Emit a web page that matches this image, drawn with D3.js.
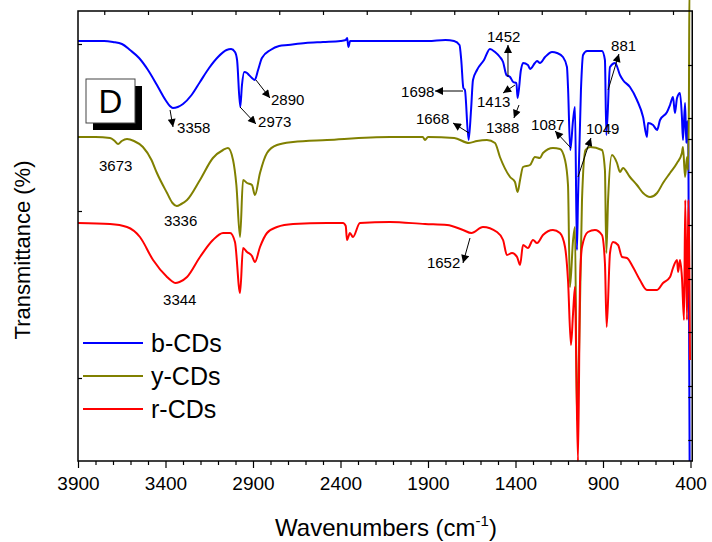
<!DOCTYPE html>
<html>
<head>
<meta charset="utf-8">
<script src="https://cdn.jsdelivr.net/npm/d3@7"></script>
<style>
  body { margin: 0; background: #fff; }
  svg text { font-family: "Liberation Sans", Arial, sans-serif; fill: #000; }
</style>
</head>
<body>
<svg id="chart" width="712" height="542"></svg>
<script>
// FT-IR spectra, [wavenumber (cm-1), transmittance (a.u., curves stacked)]
var bCDs = [
  [3900,420],[3800,420],[3751,420],[3700,419],[3649,417],[3603,411],[3551,403],[3500,391],
  [3449,376],[3400,361],[3375,355],[3358,353],[3330,354],[3300,357],[3251,366],[3203,379],[3151,393],[3100,404],
  [3051,411],[3025,412],[3003,409],[2991,401],[2973,354],[2963,376],[2950,389],[2934,388],
  [2923,386],[2906,383],[2890,381],[2871,391],[2849,403],[2800,411],[2751,415],[2700,416],
  [2600,418],[2500,419],[2400,420],[2370,421],[2362,423],[2355,414],[2345,420],[2300,420],
  [2100,420],[1900,420],[1800,421],[1751,420],[1720,416],[1710,401],[1698,373],[1689,371],
  [1668,321],[1654,351],[1643,381],[1620,391],[1580,401],[1546,412],[1517,409],[1489,404],
  [1471,399],[1452,386],[1431,384],[1413,379],[1395,378],[1388,363],[1369,391],[1357,398],
  [1329,396],[1317,392],[1289,398],[1277,400],[1260,398],[1231,404],[1191,409],[1163,408],
  [1129,404],[1106,394],[1100,374],[1087,311],[1071,341],[1060,354],[1049,211],[1043,261],
  [1026,371],[1014,406],[991,410],[906,410],[889,401],[881,326],[860,394],[831,398],
  [803,386],[786,381],[746,374],[706,361],[671,344],[649,324],[643,338],[614,336],
  [591,331],[574,341],[534,349],[517,356],[500,364],[489,348],[477,363],[460,368],
  [449,344],[443,321],[431,358],[424,318],[418,340],[412,310],[405,0]
];
var yCDs = [
  [3900,324],[3800,324],[3717,323],[3690,320],[3671,317],[3650,320],[3620,322],[3580,320],
  [3529,314],[3480,301],[3449,288],[3391,268],[3360,258],[3336,255],[3310,257],[3277,261],[3203,281],[3129,303],
  [3071,311],[3043,313],[3014,301],[2995,276],[2974,224],[2957,281],[2934,278],[2906,276],
  [2889,266],[2860,288],[2820,308],[2763,316],[2671,319],[2477,321],[2117,324],[1930,324],
  [1917,321],[1900,324],[1750,323],[1666,318],[1620,320],[1563,321],[1517,318],[1489,304],
  [1431,284],[1403,279],[1388,269],[1374,281],[1357,294],[1317,296],[1289,304],[1260,303],
  [1243,308],[1186,313],[1146,312],[1117,301],[1100,276],[1089,174],[1071,221],[1060,234],
  [1049,41],[1031,161],[1020,261],[1000,311],[974,314],[906,311],[889,291],[881,208],
  [871,261],[849,306],[820,298],[803,289],[786,293],[746,284],[706,276],[671,268],
  [631,264],[591,268],[557,278],[517,288],[477,298],[449,308],[443,314],[431,284],
  [420,304],[414,291],[409,361],[406,475],[402,475]
];
var rCDs = [
  [3900,238],[3717,237],[3620,234],[3546,224],[3471,201],[3391,184],[3365,180],[3344,178],[3320,179],[3277,184],
  [3203,204],[3129,221],[3071,228],[3031,228],[3003,219],[2974,168],[2957,213],[2934,209],
  [2906,205],[2889,199],[2860,214],[2820,228],[2763,234],[2671,237],[2477,238],[2386,238],
  [2370,235],[2363,221],[2346,228],[2329,224],[2289,238],[2117,239],[1917,237],[1791,236],
  [1700,231],[1652,228],[1586,234],[1506,229],[1471,221],[1449,206],[1420,208],[1391,204],
  [1374,196],[1357,216],[1329,213],[1300,221],[1277,218],[1243,226],[1186,231],[1146,228],
  [1117,214],[1100,181],[1083,116],[1071,148],[1060,174],[1054,114],[1043,0],[1031,181],
  [1020,214],[986,229],[946,231],[906,226],[889,198],[879,134],[860,208],[843,219],
  [814,216],[791,204],[763,203],[729,194],[689,181],[649,171],[591,171],[557,178],
  [517,184],[500,193],[477,201],[471,189],[460,201],[449,184],[437,141],[430,261],
  [420,141],[412,261],[403,101]
];

var seriesNames = ['b-CDs', 'y-CDs', 'r-CDs'];
var seriesColors = ['#0000ff', '#808000', '#ff0000'];
var seriesData = [bCDs, yCDs, rCDs];

var xMajorTicks = [3900, 3400, 2900, 2400, 1900, 1400, 900, 400];
var xMinorTicks = d3.range(3900, 399, -100);
var xTopTicks = d3.range(3750, 399, -250);
var yLeftTicks = [417, 250, 83];
var yRightTicks = [396, 343, 322, 289, 236, 193, 182, 129, 75, 64, 21];

// peak labels: text, label anchor [w, T], arrow from [w, T] to [w, T]
var peakLabels = [
  {t: '3358', at: [3334, 328], from: [3374, 351], to: [3357, 334]},
  {t: '2973', at: [2871, 334], from: [2974, 354], to: [2883, 337]},
  {t: '2890', at: [2797, 356], from: [2883, 381], to: [2803, 363]},
  {t: '3673', at: [3780, 290]},
  {t: '3336', at: [3409, 235]},
  {t: '3344', at: [3414, 156]},
  {t: '1452', at: [1563, 419], from: [1443, 384], to: [1443, 416]},
  {t: '1698', at: [2054, 364], from: [1700, 370], to: [1860, 370]},
  {t: '1413', at: [1620, 354], from: [1403, 376], to: [1471, 368]},
  {t: '1388', at: [1569, 328], from: [1380, 356], to: [1409, 343]},
  {t: '1668', at: [1969, 337], from: [1666, 328], to: [1757, 338]},
  {t: '1087', at: [1311, 331], from: [1083, 313], to: [1174, 330]},
  {t: '1049', at: [997, 327], from: [1043, 284], to: [969, 323]},
  {t: '881', at: [854, 410], from: [871, 371], to: [809, 407]},
  {t: '1652', at: [1906, 193], from: [1660, 223], to: [1700, 198]}
];

var margin = {top: 11, left: 78};
var plotW = 614.25, plotH = 450;

var svg = d3.select('#chart');
var g = svg.append('g').attr('transform', 'translate(' + margin.left + ',' + margin.top + ')');

var x = d3.scaleLinear().domain([3900, 390]).range([0, plotW]);
var y = d3.scaleLinear().domain([0, 450]).range([plotH, 0]);

svg.append('defs').append('marker')
  .attr('id', 'arrow')
  .attr('viewBox', '0 0 10 10')
  .attr('refX', 10).attr('refY', 5)
  .attr('markerUnits', 'userSpaceOnUse')
  .attr('markerWidth', 11).attr('markerHeight', 8)
  .attr('orient', 'auto')
  .append('path').attr('d', 'M0,0L10,5L0,10Z').attr('fill', '#000');

// spectra (points run left to right on screen, so monotoneX works)
var line = d3.line().x(d => x(d[0])).y(d => y(d[1])).curve(d3.curveMonotoneX);
seriesData.forEach(function(s, i) {
  g.append('path')
    .datum(s)
    .attr('d', line)
    .attr('fill', 'none')
    .attr('stroke', seriesColors[i])
    .attr('stroke-width', 2)
    .attr('stroke-linejoin', 'round');
});

// axes
var xAxis = g.append('g').attr('transform', 'translate(0,' + plotH + ')')
  .call(d3.axisBottom(x).tickValues(xMajorTicks).tickFormat(d3.format('d'))
    .tickSize(7).tickSizeOuter(0).tickPadding(4));
xAxis.selectAll('text').style('font-size', '19px').attr('dy', '0.95em');
g.append('g').attr('transform', 'translate(0,' + plotH + ')')
  .call(d3.axisBottom(x).tickValues(xMinorTicks.filter(v => xMajorTicks.indexOf(v) < 0))
    .tickSize(4).tickSizeOuter(0).tickFormat(''));
g.append('g')
  .call(d3.axisTop(x).tickValues(xTopTicks).tickSize(-4).tickSizeOuter(0).tickFormat(''));
g.append('g')
  .call(d3.axisLeft(y).tickValues(yLeftTicks).tickSize(-4).tickSizeOuter(0).tickFormat(''));
g.append('g').attr('transform', 'translate(' + plotW + ',0)')
  .call(d3.axisRight(y).tickValues(yRightTicks).tickSize(-4).tickSizeOuter(0).tickFormat(''));
g.selectAll('.domain').attr('stroke', 'none');
g.selectAll('.tick line').attr('stroke', '#000').attr('stroke-width', 1.2);

g.append('rect')
  .attr('width', plotW).attr('height', plotH)
  .attr('fill', 'none').attr('stroke', '#000').attr('stroke-width', 1.5);

// axis titles
svg.append('text')
  .attr('transform', 'translate(30,250) rotate(-90)')
  .attr('text-anchor', 'middle')
  .style('font-size', '22px')
  .text('Transmittance (%)');
var xt = svg.append('text')
  .attr('x', 386).attr('y', 536)
  .attr('text-anchor', 'middle')
  .style('font-size', '24px');
xt.append('tspan').text('Wavenumbers (cm');
xt.append('tspan').attr('dy', -10).style('font-size', '15px').text('-1');
xt.append('tspan').attr('dy', 10).text(')');

// peak annotations
peakLabels.forEach(function(p) {
  g.append('text')
    .attr('x', x(p.at[0])).attr('y', y(p.at[1]))
    .style('font-size', '15px')
    .text(p.t);
  if (p.from) {
    g.append('line')
      .attr('x1', x(p.from[0])).attr('y1', y(p.from[1]))
      .attr('x2', x(p.to[0])).attr('y2', y(p.to[1]))
      .attr('stroke', '#000').attr('stroke-width', 1)
      .attr('marker-end', 'url(#arrow)');
  }
});

// panel label
svg.append('rect').attr('x', 93).attr('y', 86).attr('width', 49).attr('height', 44).attr('fill', '#000');
svg.append('rect').attr('x', 86).attr('y', 79).attr('width', 49).attr('height', 44)
  .attr('fill', '#fff').attr('stroke', '#444').attr('stroke-width', 1);
svg.append('text').attr('x', 110.5).attr('y', 113).attr('text-anchor', 'middle')
  .style('font-size', '33px').text('D');

// legend
var legend = svg.append('g').attr('transform', 'translate(83,343)');
seriesNames.forEach(function(name, i) {
  var row = legend.append('g').attr('transform', 'translate(0,' + (i * 33) + ')');
  row.append('line').attr('x1', 0).attr('x2', 60).attr('y1', 0).attr('y2', 0)
    .attr('stroke', seriesColors[i]).attr('stroke-width', 2);
  row.append('text').attr('x', 68).attr('y', 9).style('font-size', '25px').text(name);
});
</script>
</body>
</html>
